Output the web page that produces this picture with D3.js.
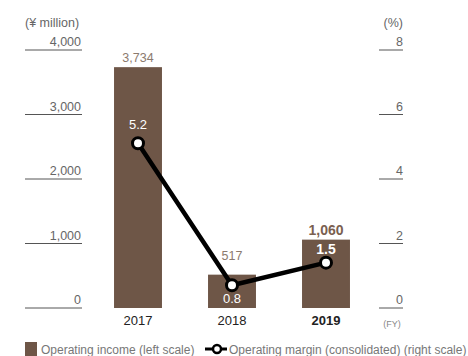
<!DOCTYPE html>
<html>
<head>
<meta charset="utf-8">
<script src="https://cdn.jsdelivr.net/npm/d3@7"></script>
<style>
  html, body { margin: 0; padding: 0; background: #fff; }
  svg { display: block; font-family: "Liberation Sans", Arial, sans-serif; }
</style>
</head>
<body>
<svg id="chart" width="468" height="356"></svg>
<script>
// Fiscal years and values
const years = ["2017", "2018", "2019"];
const operatingIncome = [3734, 517, 1060];      // ¥ million, left scale
const operatingMargin = [5.2, 0.8, 1.5];        // %, right scale
const leftTicks = [0, 1000, 2000, 3000, 4000];
const rightTicks = [0, 2, 4, 6, 8];
const incomeLabels = ["3,734", "517", "1,060"];
const marginLabels = ["5.2", "0.8", "1.5"];

const barColor = "#6e5647";
const tickColor = "#666";
const valueColor = "#8c7a6e";

const svg = d3.select("#chart");

const yLeft = d3.scaleLinear().domain([0, 4000]).range([308, 50]);
const yRight = d3.scaleLinear().domain([0, 8]).range([308, 50]);
const x = d3.scaleBand().domain(years).range([91, 373]).paddingInner(0.49).paddingOuter(0.245);

// Left axis: short rules with labels sitting above them
const leftAxis = svg.append("g");
leftTicks.forEach(t => {
  leftAxis.append("line")
    .attr("x1", 25).attr("x2", 82)
    .attr("y1", yLeft(t)).attr("y2", yLeft(t))
    .attr("stroke", "#555").attr("stroke-width", 1);
  leftAxis.append("text")
    .attr("x", 81).attr("y", yLeft(t) - 4)
    .attr("text-anchor", "end")
    .attr("font-size", 12.5).attr("fill", tickColor)
    .text(d3.format(",")(t));
});
svg.append("text").attr("x", 25).attr("y", 27)
  .attr("font-size", 12.5).attr("fill", tickColor).text("(¥ million)");

// Right axis
const rightAxis = svg.append("g");
rightTicks.forEach(t => {
  rightAxis.append("line")
    .attr("x1", 379).attr("x2", 403)
    .attr("y1", yRight(t)).attr("y2", yRight(t))
    .attr("stroke", "#555").attr("stroke-width", 1);
  rightAxis.append("text")
    .attr("x", 403).attr("y", yRight(t) - 4)
    .attr("text-anchor", "end")
    .attr("font-size", 12.5).attr("fill", tickColor)
    .text(t);
});
svg.append("text").attr("x", 403).attr("y", 27).attr("text-anchor", "end")
  .attr("font-size", 12.5).attr("fill", tickColor).text("(%)");

// Bars
svg.append("g").selectAll("rect")
  .data(years)
  .join("rect")
  .attr("x", d => x(d))
  .attr("width", x.bandwidth())
  .attr("y", (d, i) => yLeft(operatingIncome[i]))
  .attr("height", (d, i) => yLeft(0) - yLeft(operatingIncome[i]))
  .attr("fill", barColor);

// Income value labels above bars (2018 lifted clear of the line)
const incomeOffsets = [-5, -15, -5];
svg.append("g").selectAll("text")
  .data(years)
  .join("text")
  .attr("x", d => x(d) + x.bandwidth() / 2)
  .attr("y", (d, i) => yLeft(operatingIncome[i]) + incomeOffsets[i])
  .attr("text-anchor", "middle")
  .attr("font-size", (d, i) => i === 2 ? 14 : 12.5)
  .attr("font-weight", (d, i) => i === 2 ? "bold" : "normal")
  .attr("fill", (d, i) => i === 2 ? "#7a6050" : valueColor)
  .text((d, i) => incomeLabels[i]);

// Margin line
const cx = d => x(d) + x.bandwidth() / 2;
const line = d3.line()
  .x((d, i) => cx(years[i]))
  .y(d => yRight(d) + 3);
svg.append("path")
  .datum(operatingMargin)
  .attr("d", line)
  .attr("fill", "none")
  .attr("stroke", "#000")
  .attr("stroke-width", 4.5)
  .attr("stroke-linejoin", "round");

svg.append("g").selectAll("circle")
  .data(operatingMargin)
  .join("circle")
  .attr("cx", (d, i) => cx(years[i]))
  .attr("cy", d => yRight(d) + 3)
  .attr("r", 5.5)
  .attr("fill", "#fff")
  .attr("stroke", "#000")
  .attr("stroke-width", 3);

// Margin value labels (white, inside bars)
const marginOffsets = [-14, 18, -9];
svg.append("g").selectAll("text")
  .data(operatingMargin)
  .join("text")
  .attr("x", (d, i) => cx(years[i]))
  .attr("y", (d, i) => yRight(d) + 3 + marginOffsets[i])
  .attr("text-anchor", "middle")
  .attr("font-size", (d, i) => i === 2 ? 14 : 13)
  .attr("font-weight", (d, i) => i === 2 ? "bold" : "normal")
  .attr("fill", "#fff")
  .text((d, i) => marginLabels[i]);

// Year labels
svg.append("g").selectAll("text")
  .data(years)
  .join("text")
  .attr("x", d => cx(d))
  .attr("y", 325)
  .attr("text-anchor", "middle")
  .attr("font-size", 13)
  .attr("font-weight", (d, i) => i === 2 ? "bold" : "normal")
  .attr("fill", "#222")
  .text(d => d);

svg.append("text").attr("x", 392).attr("y", 327).attr("text-anchor", "middle")
  .attr("font-size", 9).attr("fill", "#888").text("(FY)");

// Legend
const legend = svg.append("g");
legend.append("rect").attr("x", 25).attr("y", 342).attr("width", 12).attr("height", 14).attr("fill", barColor);
legend.append("text").attr("x", 41).attr("y", 354)
  .attr("font-size", 12).attr("fill", "#777").text("Operating income (left scale)");
legend.append("line").attr("x1", 205).attr("x2", 227).attr("y1", 349).attr("y2", 349)
  .attr("stroke", "#000").attr("stroke-width", 3);
legend.append("circle").attr("cx", 217).attr("cy", 349).attr("r", 4)
  .attr("fill", "#fff").attr("stroke", "#000").attr("stroke-width", 2.5);
legend.append("text").attr("x", 229).attr("y", 354)
  .attr("font-size", 12).attr("fill", "#777").text("Operating margin (consolidated) (right scale)");
</script>
</body>
</html>
